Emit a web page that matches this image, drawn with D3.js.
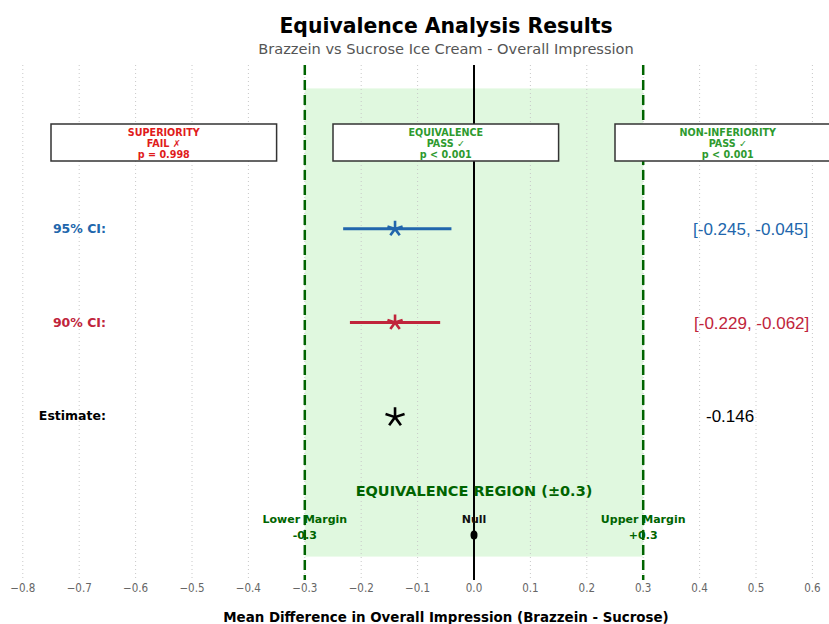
<!DOCTYPE html>
<html>
<head>
<meta charset="utf-8">
<script src="https://cdn.jsdelivr.net/npm/d3@7"></script>
<style>
  body { margin: 0; background: #fff; }
  svg { display: block; font-family: "DejaVu Sans", sans-serif; }
</style>
</head>
<body>
<div id="chart"></div>
<script>
// data
var rows = ["95% CI:", "90% CI:", "Estimate:"];
var rowLevel = [3, 2, 1];
var rowColors = ["#2166ac", "#c0243b", "#000000"];
var ciLower = [-0.232, -0.220];
var ciUpper = [-0.040, -0.060];
var estimate = -0.140;
var rightLabels = ["[-0.245, -0.045]", "[-0.229, -0.062]", "-0.146"];
var margin = 0.3;
var xTicks = [-0.8, -0.7, -0.6, -0.5, -0.4, -0.3, -0.2, -0.1, 0.0, 0.1, 0.2, 0.3, 0.4, 0.5, 0.6];
var tests = ["SUPERIORITY", "EQUIVALENCE", "NON-INFERIORITY"];
var testResult = ["FAIL \u2717", "PASS \u2713", "PASS \u2713"];
var testP = ["p = 0.998", "p < 0.001", "p < 0.001"];
var testPass = [false, true, true];
var testCenter = [-0.55, -0.05, 0.45];

var W = 829, H = 624;
var svg = d3.select("#chart").append("svg")
    .attr("width", W).attr("height", H);

var x = d3.scaleLinear().domain([-0.8, 0.6]).range([22.8, 812.4]);
var y = d3.scaleLinear().domain([-0.75, 4.75]).range([580, 65]);

var green = "#006400";

// equivalence region
svg.append("rect")
    .attr("x", x(-margin)).attr("y", y(4.5))
    .attr("width", x(margin) - x(-margin))
    .attr("height", y(-0.5) - y(4.5))
    .attr("fill", "#e0f8df");

// grid
svg.append("g").selectAll("line")
    .data(xTicks).enter().append("line")
    .attr("x1", function (d) { return x(d); })
    .attr("x2", function (d) { return x(d); })
    .attr("y1", y(4.75)).attr("y2", y(-0.75))
    .attr("stroke", "#c8c8c8")
    .attr("stroke-width", 1)
    .attr("stroke-dasharray", "1,3");

// tick labels
svg.append("g").selectAll("text")
    .data(xTicks).enter().append("text")
    .attr("x", function (d) { return x(d); })
    .attr("y", 592)
    .attr("text-anchor", "middle")
    .style("font-family", "'DejaVu Sans Condensed', 'Liberation Sans Narrow', sans-serif")
    .style("font-size", "11.5px")
    .style("fill", "#666")
    .text(function (d) { return d3.format(".1f")(d); });

// margin lines
svg.append("g").selectAll("line")
    .data([-margin, margin]).enter().append("line")
    .attr("x1", function (d) { return x(d); })
    .attr("x2", function (d) { return x(d); })
    .attr("y1", y(4.75)).attr("y2", y(-0.75))
    .attr("stroke", green)
    .attr("stroke-width", 2.5)
    .attr("stroke-dasharray", "10,5");

// null line
svg.append("line")
    .attr("x1", x(0)).attr("x2", x(0))
    .attr("y1", y(4.75)).attr("y2", y(-0.75))
    .attr("stroke", "#000").attr("stroke-width", 2);

// five armed asterisk
var asterisk = {
    draw: function (ctx, size) {
        var r = Math.sqrt(size) / 2;
        for (var i = 0; i < 5; i++) {
            var a = -Math.PI / 2 + i * 2 * Math.PI / 5;
            ctx.moveTo(0, 0);
            ctx.lineTo(r * Math.cos(a), r * Math.sin(a));
        }
    }
};

// CI lines
[0, 1].forEach(function (i) {
    svg.append("line")
        .attr("x1", x(ciLower[i])).attr("x2", x(ciUpper[i]))
        .attr("y1", y(rowLevel[i])).attr("y2", y(rowLevel[i]))
        .attr("stroke", rowColors[i]).attr("stroke-width", 3);
});

// markers
var markerSize = [16, 16, 20];
rowLevel.forEach(function (lv, i) {
    svg.append("path")
        .attr("transform", "translate(" + x(estimate) + "," + (y(lv) + (i == 2 ? 1 : 0)) + ")")
        .attr("d", d3.symbol().type(asterisk).size(markerSize[i] * markerSize[i])())
        .attr("fill", "none")
        .attr("stroke", rowColors[i])
        .attr("stroke-width", 2.6);
});

// row labels
svg.append("g").selectAll("text")
    .data(rows).enter().append("text")
    .attr("x", 106)
    .attr("y", function (d, i) { return y(rowLevel[i]) + 4; })
    .attr("text-anchor", "end")
    .style("font-size", "12.5px")
    .style("font-weight", "bold")
    .style("fill", function (d, i) { return rowColors[i]; })
    .text(function (d) { return d; });

// value labels
var rightX = [693, 694, 706];
svg.append("g").selectAll("text")
    .data(rightLabels).enter().append("text")
    .attr("x", function (d, i) { return rightX[i]; })
    .attr("y", function (d, i) { return y(rowLevel[i]) + 6; })
    .style("font-family", "'Liberation Sans', Arial, sans-serif")
    .style("font-size", "17px")
    .style("fill", function (d, i) { return rowColors[i]; })
    .text(function (d) { return d; });

// test boxes
var boxes = svg.append("g").selectAll("g")
    .data(tests).enter().append("g");
boxes.append("rect")
    .attr("x", function (d, i) { return x(testCenter[i] - 0.2); })
    .attr("y", 124)
    .attr("width", x(0.2) - x(-0.2))
    .attr("height", 37)
    .attr("fill", "#fff")
    .attr("stroke", "#333")
    .attr("stroke-width", 1.5);
[tests, testResult, testP].forEach(function (arr, k) {
    boxes.append("text")
        .attr("x", function (d, i) { return x(testCenter[i]); })
        .attr("y", 136 + k * 11)
        .attr("text-anchor", "middle")
        .style("font-size", "9.6px")
        .style("font-weight", "bold")
        .style("fill", function (d, i) { return testPass[i] ? "#2e9a2e" : "#e01b1b"; })
        .text(function (d, i) { return arr[i]; });
});

// region annotation
svg.append("text")
    .attr("x", x(0)).attr("y", 496)
    .attr("text-anchor", "middle")
    .style("font-size", "14.5px").style("font-weight", "bold")
    .style("fill", green)
    .text("EQUIVALENCE REGION (\u00b10.3)");

var marks = [
    { v: -margin, a: "Lower Margin", b: "-0.3", c: green },
    { v: 0, a: "Null", b: "", c: "#111" },
    { v: margin, a: "Upper Margin", b: "+0.3", c: green }
];
marks.forEach(function (m) {
    svg.append("text")
        .attr("x", x(m.v)).attr("y", 523)
        .attr("text-anchor", "middle")
        .style("font-size", "11px").style("font-weight", "bold")
        .style("fill", m.c).text(m.a);
    if (m.b) {
        svg.append("text")
            .attr("x", x(m.v)).attr("y", 539)
            .attr("text-anchor", "middle")
            .style("font-size", "11px").style("font-weight", "bold")
            .style("fill", m.c).text(m.b);
    }
});
svg.append("ellipse")
    .attr("cx", x(0)).attr("cy", 535)
    .attr("rx", 3.5).attr("ry", 4.5)
    .attr("fill", "#000");

// titles
svg.append("text")
    .attr("x", 446).attr("y", 33)
    .attr("text-anchor", "middle")
    .style("font-size", "20.4px").style("font-weight", "bold")
    .text("Equivalence Analysis Results");
svg.append("text")
    .attr("x", 446).attr("y", 54)
    .attr("text-anchor", "middle")
    .style("font-size", "14.6px").style("fill", "#555")
    .text("Brazzein vs Sucrose Ice Cream - Overall Impression");
svg.append("text")
    .attr("x", 446).attr("y", 622)
    .attr("text-anchor", "middle")
    .style("font-size", "13.4px").style("font-weight", "bold")
    .text("Mean Difference in Overall Impression (Brazzein - Sucrose)");
</script>
</body>
</html>
